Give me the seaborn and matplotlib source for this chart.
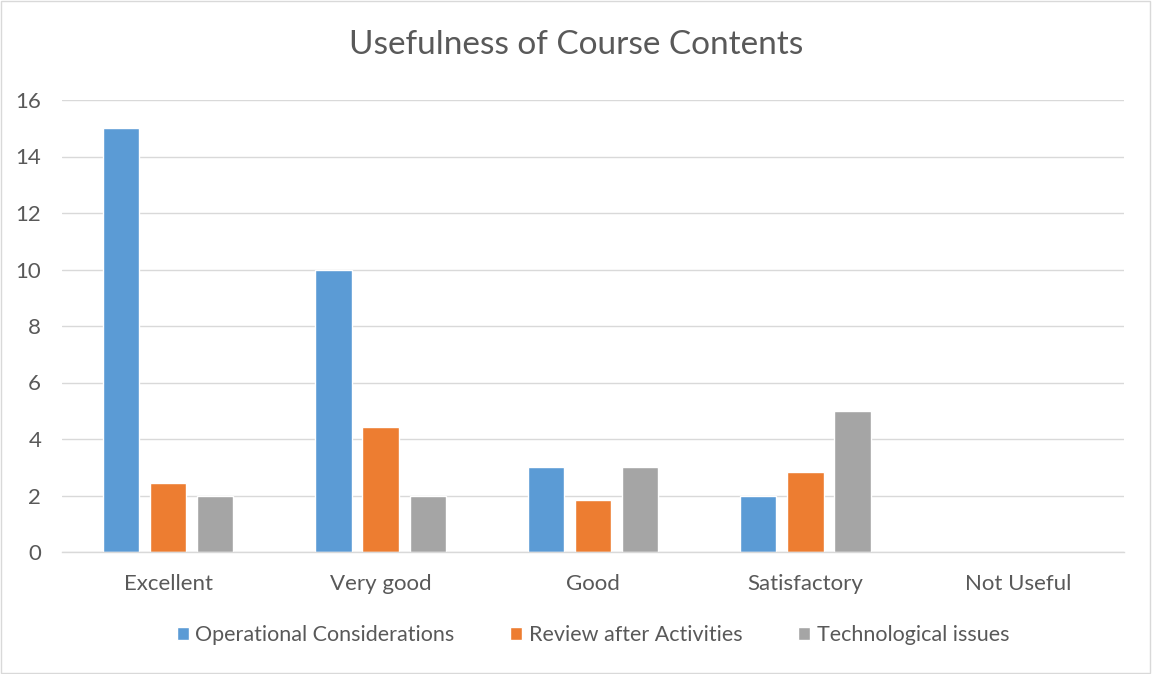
import pandas as pd
import matplotlib.pyplot as plt
import seaborn as sns
from matplotlib.patches import Rectangle

# Datos
categorias = ["Excellent", "Very good", "Good", "Satisfactory", "Not Useful"]
operational = [15, 10, 3, 2, 0]
review = [2.43, 4.42, 1.83, 2.83, 0]
technological = [2, 2, 3, 5, 0]
series = ["Operational Considerations", "Review after Activities", "Technological issues"]
colores = ["#5B9BD5", "#ED7D31", "#A5A5A5"]

df = pd.DataFrame({
    "categoria": categorias * 3,
    "serie": [series[0]] * 5 + [series[1]] * 5 + [series[2]] * 5,
    "valor": operational + review + technological,
})

sns.set_theme(style="white")
plt.rcParams["font.family"] = ["Lato", "DejaVu Sans"]
texto = "#595959"

fig = plt.figure(figsize=(11.52, 6.74), dpi=100)
ax = fig.add_axes([62 / 1152, 1 - 552 / 674, 1062 / 1152, 452 / 674])

sns.barplot(data=df, x="categoria", y="valor", hue="serie", palette=colores,
            saturation=1, width=0.665, gap=0.23, ax=ax, legend=True)

ax.set_ylim(0, 16)
ax.set_yticks(range(0, 17, 2))
ax.set_xlim(-0.5, 4.5)
ax.yaxis.grid(True, color="#D9D9D9", linewidth=1)
ax.set_axisbelow(True)
for s in ["left", "right", "top"]:
    ax.spines[s].set_visible(False)
ax.spines["bottom"].set_color("#D9D9D9")
ax.spines["bottom"].set_linewidth(1)
ax.tick_params(axis="both", length=0, labelsize=16, colors=texto)
ax.tick_params(axis="x", pad=16)
ax.tick_params(axis="y", pad=15)
ax.set_xlabel("")
ax.set_ylabel("")

fig.suptitle("Usefulness of Course Contents", y=1 - 45 / 674, va="center",
             fontsize=24, color=texto)

leg = ax.legend(loc="center", bbox_to_anchor=(0.5, (552 - 635) / 452), ncol=3,
                frameon=False, fontsize=15.5, handlelength=0.55, handleheight=0.55,
                handletextpad=0.3, columnspacing=2.6)
for t in leg.get_texts():
    t.set_color(texto)

fig.patches.append(Rectangle((0.0005, 0.0008), 0.998, 0.998, transform=fig.transFigure,
                             fill=False, edgecolor="#D9D9D9", linewidth=1))

plt.savefig("out.png", dpi=100)
